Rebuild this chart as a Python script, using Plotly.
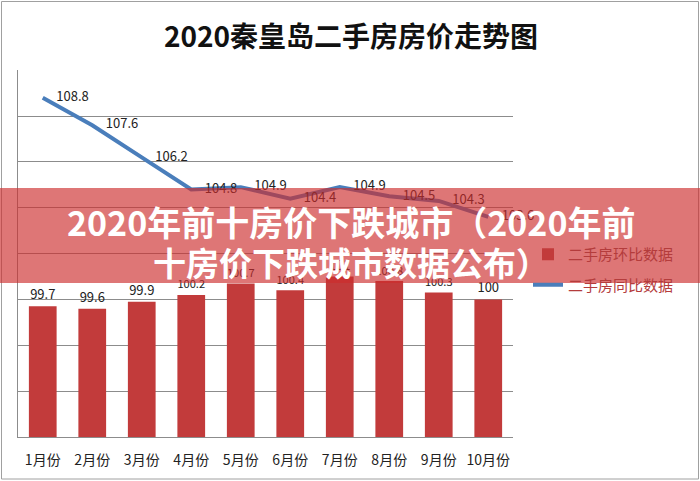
import plotly.graph_objects as go

months = ["1月份", "2月份", "3月份", "4月份", "5月份", "6月份", "7月份", "8月份", "9月份", "10月份"]
mom_values = [99.7, 99.6, 99.9, 100.2, 100.7, 100.4, 101.0, 100.8, 100.3, 100.0]   # 二手房环比数据
yoy_values = [108.8, 107.6, 106.2, 104.8, 104.9, 104.4, 104.9, 104.5, 104.3, 103.6]  # 二手房同比数据
mom_labels = ["99.7", "99.6", "99.9", "100.2", "100.7", "100.4", "101", "100.8", "100.3", "100"]

title_text = "2020秦皇岛二手房房价走势图"
banner_line1 = "2020年前十房价下跌城市（2020年前"
banner_line2 = "十房价下跌城市数据公布）"

FONT = "Noto Sans CJK SC"
W, H = 700, 481
L, R, T, B = 18, 513, 70, 437  # plot area in px


def px_x(x):
    return (x - L) / (R - L)


def px_y(y):
    return (B - y) / (B - T)


fig = go.Figure()
fig.add_trace(go.Bar(
    x=months, y=mom_values, name="二手房环比数据", legendgroup="a",
    marker=dict(color="#c23b3b", line=dict(width=0)),
    text=mom_labels, textposition="outside", cliponaxis=False,
    textfont=dict(family=FONT, size=13, color="#222222"),
))
fig.add_trace(go.Scatter(
    x=months, y=yoy_values, name="二手房同比数据", legendgroup="b",
    mode="lines", line=dict(color="#4a7ebb", width=4),
))
# data labels for the line (no legend entry)
fig.add_trace(go.Scatter(
    x=months, y=yoy_values, showlegend=False, hoverinfo="skip",
    mode="markers+text",
    marker=dict(size=20, opacity=0, color="#4a7ebb"),
    text=[str(v) for v in yoy_values], textposition="middle right",
    textfont=dict(family=FONT, size=13, color="#222222"),
    cliponaxis=False,
))

shapes = [
    # outer frame
    dict(type="rect", xref="paper", yref="paper",
         x0=px_x(1.5), x1=px_x(698.5), y0=px_y(479), y1=px_y(1.5),
         line=dict(color="#a0a0a0", width=1), layer="below"),
    # red banner overlay
    dict(type="rect", xref="paper", yref="paper",
         x0=px_x(0), x1=px_x(700), y0=px_y(283), y1=px_y(188),
         fillcolor="rgba(205,45,45,0.65)", line=dict(width=0), layer="above"),
]

annotations = [
    dict(text="<b>" + title_text + "</b>", xref="paper", yref="paper",
         x=px_x(351), y=px_y(35), xanchor="center", yanchor="middle",
         showarrow=False, font=dict(family=FONT, size=28, color="#111111")),
    dict(text="<b>" + banner_line1 + "</b>", xref="paper", yref="paper",
         x=px_x(351), y=px_y(221), xanchor="center", yanchor="middle",
         showarrow=False, font=dict(family=FONT, size=34, color="#ffffff")),
    dict(text="<b>" + banner_line2 + "</b>", xref="paper", yref="paper",
         x=px_x(351), y=px_y(262), xanchor="center", yanchor="middle",
         showarrow=False, font=dict(family=FONT, size=33, color="#ffffff")),
]

fig.update_layout(
    width=W, height=H,
    margin=dict(l=L, r=W - R, t=T, b=H - B, pad=0),
    paper_bgcolor="white", plot_bgcolor="white",
    bargap=0.44,
    showlegend=True,
    legend=dict(x=px_x(528), y=px_y(238), xanchor="left", yanchor="top",
                font=dict(family=FONT, size=15, color="#b43c3c"),
                bgcolor="rgba(0,0,0,0)", tracegroupgap=8, itemwidth=30),
    xaxis=dict(showline=True, linecolor="#8c8c8c", linewidth=1,
               ticks="", tickfont=dict(family=FONT, size=14, color="#222222"),
               ticklabelstandoff=10, showgrid=False, range=[-0.5, 9.5]),
    yaxis=dict(range=[94, 110.01], dtick=2, tick0=94, showticklabels=False,
               showgrid=True, gridcolor="#8c8c8c", gridwidth=1,
               showline=True, linecolor="#8c8c8c", linewidth=1,
               zeroline=False, ticks=""),
    shapes=shapes,
    annotations=annotations,
    font=dict(family=FONT),
)

fig.write_html("out.html")
